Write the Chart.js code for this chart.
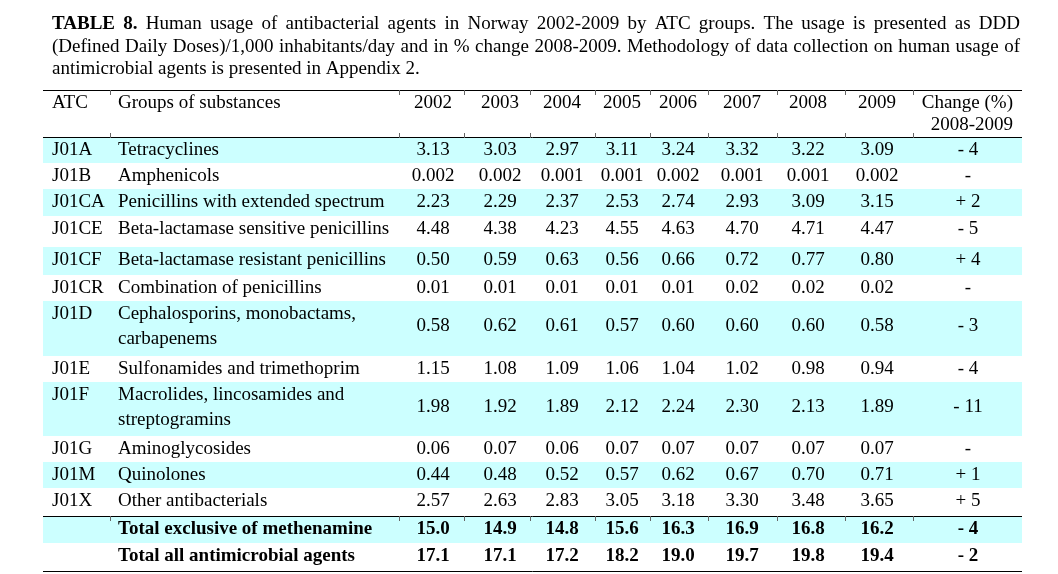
<!DOCTYPE html>
<html>
<head>
<meta charset="utf-8">
<script src="https://cdn.jsdelivr.net/npm/chart.js@4.4.0/dist/chart.umd.min.js"></script>
<style>
html,body{margin:0;padding:0;background:#fff;}
canvas{display:block;}
</style>
</head>
<body>
<canvas id="tabla" width="1058" height="574"></canvas>
<script>
// texto del titulo (las dos primeras lineas van justificadas)
const tituloNegrita='TABLE 8.';
const tituloLineas=[
 'Human usage of antibacterial agents in Norway 2002-2009 by ATC groups. The usage is presented as DDD',
 '(Defined Daily Doses)/1,000 inhabitants/day and in % change 2008-2009. Methodology of data collection on human usage of',
 'antimicrobial agents is presented in Appendix 2.'
];

const cabecera=['ATC','Groups of substances'];
const years=['2002','2003','2004','2005','2006','2007','2008','2009'];
const cabeceraCambio=['Change (%)','2008-2009'];

const atc=['J01A','J01B','J01CA','J01CE','J01CF','J01CR','J01D','J01E','J01F','J01G','J01M','J01X','',''];
const grupos=[
 ['Tetracyclines'],
 ['Amphenicols'],
 ['Penicillins with extended spectrum'],
 ['Beta-lactamase sensitive penicillins'],
 ['Beta-lactamase resistant penicillins'],
 ['Combination of penicillins'],
 ['Cephalosporins, monobactams,','carbapenems'],
 ['Sulfonamides and trimethoprim'],
 ['Macrolides, lincosamides and','streptogramins'],
 ['Aminoglycosides'],
 ['Quinolones'],
 ['Other antibacterials'],
 ['Total exclusive of methenamine'],
 ['Total all antimicrobial agents']
];

const u2002=['3.13','0.002','2.23','4.48','0.50','0.01','0.58','1.15','1.98','0.06','0.44','2.57','15.0','17.1'];
const u2003=['3.03','0.002','2.29','4.38','0.59','0.01','0.62','1.08','1.92','0.07','0.48','2.63','14.9','17.1'];
const u2004=['2.97','0.001','2.37','4.23','0.63','0.01','0.61','1.09','1.89','0.06','0.52','2.83','14.8','17.2'];
const u2005=['3.11','0.001','2.53','4.55','0.56','0.01','0.57','1.06','2.12','0.07','0.57','3.05','15.6','18.2'];
const u2006=['3.24','0.002','2.74','4.63','0.66','0.01','0.60','1.04','2.24','0.07','0.62','3.18','16.3','19.0'];
const u2007=['3.32','0.001','2.93','4.70','0.72','0.02','0.60','1.02','2.30','0.07','0.67','3.30','16.9','19.7'];
const u2008=['3.22','0.001','3.09','4.71','0.77','0.02','0.60','0.98','2.13','0.07','0.70','3.48','16.8','19.8'];
const u2009=['3.09','0.002','3.15','4.47','0.80','0.02','0.58','0.94','1.89','0.07','0.71','3.65','16.2','19.4'];
const cambio=['- 4','-','+ 2','- 5','+ 4','-','- 3','- 4','- 11','-','+ 1','+ 5','- 4','- 2'];

const usos=[u2002,u2003,u2004,u2005,u2006,u2007,u2008,u2009];
const filasTotal=[12,13];

// ---- maqueta (posiciones en unidades de la escala) ----
const FUENTE='"Liberation Serif","Times New Roman",serif';
const TAM=19;
const CIAN='#ccffff';
const anchoTabla=979;
const bordesCol=[67,356,421,487,552,607,665,734,802,870];
const xATC=9, xGrupo=75;
const centrosCol=[390,457,519,579,635,699,765,834];
const derechaCambio=970, centroCambio=925;
const altoCabecera=47;
const altosFila=[26,26,27,31,28,26,55,26,54,26,26,28,27,29];
const filasCian=[0,2,4,6,8,10,12];

const topes=[];
let acc=altoCabecera;
altosFila.forEach(h=>{topes.push(acc);acc+=h;});
const altoTotal=acc;

function justificar(ctx,palabras,x0,x1,y,justo){
 const anchos=palabras.map(p=>{ctx.font=(p.b?'bold ':'')+TAM+'px '+FUENTE;return ctx.measureText(p.t).width;});
 ctx.font=TAM+'px '+FUENTE;
 const esp=ctx.measureText(' ').width;
 const suma=anchos.reduce((a,b)=>a+b,0);
 const hueco=justo?(x1-x0-suma)/(palabras.length-1):esp;
 let x=x0;
 palabras.forEach((p,i)=>{
  ctx.font=(p.b?'bold ':'')+TAM+'px '+FUENTE;
  ctx.fillText(p.t,x,y);
  x+=anchos[i]+hueco;
 });
}

const pluginTabla={
 id:'pluginTabla',
 beforeDatasetsDraw(chart){
  const ctx=chart.ctx, xs=chart.scales.x, ys=chart.scales.y;
  ctx.save();
  ctx.fillStyle=CIAN;
  filasCian.forEach(i=>{
   const y0=ys.getPixelForValue(topes[i]), y1=ys.getPixelForValue(topes[i]+altosFila[i]);
   const x0=xs.getPixelForValue(0), x1=xs.getPixelForValue(anchoTabla);
   ctx.fillRect(x0,y0,x1-x0,y1-y0);
  });
  ctx.restore();
 },
 afterDraw(chart){
  const ctx=chart.ctx, xs=chart.scales.x, ys=chart.scales.y;
  const X=v=>xs.getPixelForValue(v), Y=v=>ys.getPixelForValue(v);
  ctx.save();
  ctx.fillStyle='#000';

  // titulo
  ctx.textBaseline='alphabetic';
  ctx.textAlign='left';
  const lineasPal=tituloLineas.map(l=>l.split(' ').map(t=>({t,b:false})));
  lineasPal[0].unshift({t:'8.',b:true});
  lineasPal[0].unshift({t:'TABLE',b:true});
  lineasPal.forEach((pal,i)=>{
   justificar(ctx,pal,X(xATC),X(977),29+i*22.7,i<2);
  });

  // lineas horizontales
  ctx.strokeStyle='#000';
  ctx.lineWidth=1;
  [0,altoCabecera,topes[12],altoTotal-1].forEach(v=>{
   const y=Math.round(Y(v))+0.5;
   ctx.beginPath();ctx.moveTo(X(0),y);ctx.lineTo(X(anchoTabla),y);ctx.stroke();
  });
  // marquitas de columnas
  ctx.strokeStyle='#666';
  bordesCol.forEach(b=>{
   const x=Math.round(X(b))+0.5;
   [[0,4],[altoCabecera-4,altoCabecera],[topes[12],topes[12]+4]].forEach(([a,c])=>{
    ctx.beginPath();ctx.moveTo(x,Math.round(Y(a)));ctx.lineTo(x,Math.round(Y(c))+1);ctx.stroke();
   });
  });

  // cabecera
  ctx.textBaseline='middle';
  ctx.font=TAM+'px '+FUENTE;
  ctx.textAlign='left';
  ctx.fillText(cabecera[0],X(xATC),Y(13));
  ctx.fillText(cabecera[1],X(xGrupo),Y(13));
  ctx.textAlign='center';
  years.forEach((a,j)=>ctx.fillText(a,X(centrosCol[j]),Y(13)));
  ctx.textAlign='right';
  ctx.fillText(cabeceraCambio[0],X(derechaCambio),Y(13));
  ctx.fillText(cabeceraCambio[1],X(derechaCambio),Y(35));

  // filas
  atc.forEach((cod,i)=>{
   const top=topes[i], h=altosFila[i];
   const negrita=filasTotal.includes(i);
   ctx.font=(negrita?'bold ':'')+TAM+'px '+FUENTE;
   ctx.textAlign='left';
   if(cod) ctx.fillText(cod,X(xATC),Y(top+13));
   grupos[i].forEach((g,k)=>ctx.fillText(g,X(xGrupo),Y(top+13+k*25)));
   const yc=grupos[i].length>1?top+25.5:top+13;
   ctx.textAlign='center';
   usos.forEach((serie,j)=>ctx.fillText(serie[i],X(centrosCol[j]),Y(yc)));
   ctx.fillText(cambio[i],X(centroCambio),Y(yc));
  });
  ctx.restore();
 }
};

new Chart(document.getElementById('tabla'),{
 type:'scatter',
 data:{datasets:[{data:[]}]},
 options:{
  responsive:false,
  animation:false,
  events:[],
  layout:{padding:{left:43,right:36,top:90,bottom:2}},
  plugins:{legend:{display:false},tooltip:{enabled:false},title:{display:false}},
  scales:{
   x:{type:'linear',min:0,max:anchoTabla,display:false},
   y:{type:'linear',min:0,max:altoTotal,reverse:true,display:false}
  }
 },
 plugins:[pluginTabla]
});
</script>
</body>
</html>
